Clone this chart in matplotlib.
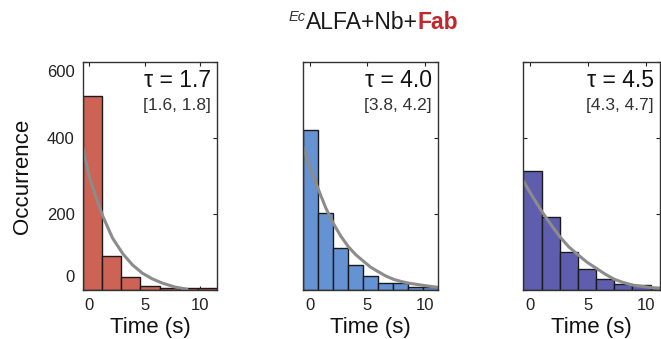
import numpy as np
import matplotlib
matplotlib.use("Agg")
import matplotlib.pyplot as plt
from matplotlib.transforms import ScaledTranslation

plt.rcParams["font.family"] = ["Liberation Sans", "DejaVu Sans"]

# histogram data (bin start, bin width, counts)
start_1, width_1 = -0.55, 1.72
counts_1 = [510, 90, 33, 11, 6, 4, 5]
start_2, width_2 = -0.58, 1.30
counts_2 = [421, 202, 110, 66, 38, 19, 18, 7, 7]
start_3, width_3 = -0.60, 1.57
counts_3 = [312, 193, 100, 55, 28, 16, 13, 7]

# fitted exponential curves
fit_x_1 = [-0.55, 0.0, 0.6, 1.25, 2.1, 3.04, 3.9, 4.8, 5.7, 6.6, 7.7, 8.8]
fit_y_1 = [373, 300, 245, 193, 137, 95, 66, 44, 29, 18, 8, 2]
fit_x_2 = [-0.58, 0.1, 0.78, 1.4, 2.06, 2.7, 3.36, 4.0, 4.7, 5.3, 5.97, 6.6, 7.3, 8.0, 8.6, 9.9, 11.15]
fit_y_2 = [377, 316, 263, 216, 175, 142, 114, 93, 75, 60, 48, 37, 28, 22, 18, 12, 7]
fit_x_3 = [-0.64, 0.2, 1.0, 1.8, 2.55, 3.3, 4.14, 4.9, 5.7, 6.5, 7.27, 8.0, 8.83, 10.0, 11.2]
fit_y_3 = [288, 245, 206, 171, 140, 114, 92, 73, 57, 41, 28, 20, 13, 8, 4]

taus = ["1.7", "4.0", "4.5"]
cis = ["[1.6, 1.8]", "[3.8, 4.2]", "[4.3, 4.7]"]
colors = ["#cd6355", "#6492d2", "#5f5eae"]

panels = [
    (start_1, width_1, counts_1, fit_x_1, fit_y_1, (-0.55, 11.5)),
    (start_2, width_2, counts_2, fit_x_2, fit_y_2, (-0.58, 11.15)),
    (start_3, width_3, counts_3, fit_x_3, fit_y_3, (-0.64, 11.2)),
]
positions = [
    [83 / 661, 49 / 339, 134 / 661, 228 / 339],
    [303 / 661, 49 / 339, 135 / 661, 228 / 339],
    [523 / 661, 49 / 339, 137 / 661, 228 / 339],
]

fig = plt.figure(figsize=(6.61, 3.39), dpi=100)

for i, (st, w, cnt, fx, fy, xl) in enumerate(panels):
    ax = fig.add_axes(positions[i])
    left = st + w * np.arange(len(cnt))
    ax.bar(left, cnt, width=w, align="edge", color=colors[i],
           edgecolor="#1a1a1a", linewidth=1.0, zorder=2)
    ax.plot(fx, fy, color="#8c8c8c", lw=2.2, zorder=3, solid_capstyle="round")
    ax.set_xlim(xl)
    ax.set_ylim(0, 600)
    ax.set_xticks([0, 5, 10])
    ax.set_yticks([0, 200, 400, 600])
    ax.tick_params(direction="in", length=3, width=0.8, top=True, right=True,
                   labelsize=12, colors="#222222", pad=6)
    for s in ax.spines.values():
        s.set_color("#333333")
        s.set_linewidth(1.0)
        s.set_zorder(4)
    ax.set_xlabel("Time (s)", fontsize=16, labelpad=3, color="#111111")
    if i == 0:
        ax.set_ylabel("Occurrence", fontsize=16, labelpad=10, color="#111111")
        labs = ax.get_yticklabels()
        labs[0].set_transform(labs[0].get_transform() +
                              ScaledTranslation(0, 0.14, fig.dpi_scale_trans))
        labs[-1].set_transform(labs[-1].get_transform() +
                               ScaledTranslation(0, -0.09, fig.dpi_scale_trans))
    else:
        ax.set_yticklabels([])
    ax.text(0.955, 0.92, "\u03c4 = " + taus[i], transform=ax.transAxes,
            ha="right", va="center", fontsize=16.5, color="#111111", zorder=5)
    ax.text(0.955, 0.81, cis[i], transform=ax.transAxes,
            ha="right", va="center", fontsize=12.5, color="#333333", zorder=5)

# title: superscript "Ec", black middle part, bold red "Fab"
t1 = fig.text(0.547, 0.914, "ALFA+Nb+", fontsize=16.5, color="#1a1a1a",
              ha="center", va="baseline")
fig.canvas.draw()
bb = t1.get_window_extent()
fig.text(bb.x0 / fig.bbox.width, (bb.y1 - 6) / fig.bbox.height, "Ec",
         fontsize=10.5, style="italic", color="#333333", ha="right", va="center")
fig.text(bb.x1 / fig.bbox.width, 0.914, "Fab", fontsize=16.5,
         fontweight="bold", color="#c1272d", ha="left", va="baseline")

fig.savefig("out.png", dpi=100)
